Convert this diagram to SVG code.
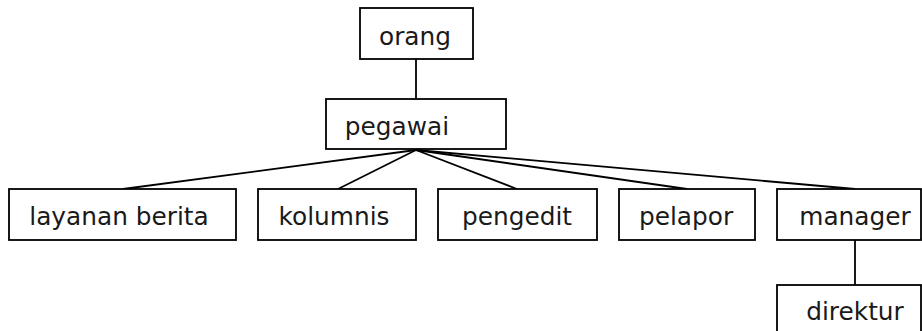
<svg xmlns="http://www.w3.org/2000/svg" width="922" height="331" viewBox="0 0 922 331">
  <style>
    .box { fill: #ffffff; stroke: #000000; stroke-width: 1.8; }
    .lbl { font-family: "DejaVu Sans", Verdana, sans-serif; font-size: 24.8px; fill: #1a1a1a; text-anchor: middle; }
    .edge { stroke: #000000; stroke-width: 1.8; fill: none; }
  </style>
  <rect width="922" height="331" fill="#ffffff"/>

  <!-- hierarchy links -->
  <g id="connectors">
    <line class="edge" x1="416" y1="59" x2="416" y2="99"/>
    <line class="edge" x1="416" y1="150" x2="123" y2="189"/>
    <line class="edge" x1="416" y1="150" x2="338" y2="189"/>
    <line class="edge" x1="416" y1="150" x2="517" y2="189"/>
    <line class="edge" x1="416" y1="150" x2="687" y2="189"/>
    <line class="edge" x1="416" y1="150" x2="855" y2="189"/>
    <line class="edge" x1="855" y1="240" x2="855" y2="285"/>
  </g>

  <g id="orang">
    <rect class="box" x="360" y="8" width="113" height="51"/>
    <text class="lbl" x="415" y="45">orang</text>
  </g>
  <g id="pegawai">
    <rect class="box" x="326" y="99" width="180" height="50"/>
    <text class="lbl" x="397" y="135">pegawai</text>
  </g>
  <g id="layanan-berita">
    <rect class="box" x="9" y="189" width="227" height="51"/>
    <text class="lbl" x="119" y="225">layanan berita</text>
  </g>
  <g id="kolumnis">
    <rect class="box" x="258" y="189" width="158" height="51"/>
    <text class="lbl" x="334" y="225">kolumnis</text>
  </g>
  <g id="pengedit">
    <rect class="box" x="438" y="189" width="159" height="51"/>
    <text class="lbl" x="517" y="225">pengedit</text>
  </g>
  <g id="pelapor">
    <rect class="box" x="619" y="189" width="136" height="51"/>
    <text class="lbl" x="686" y="225">pelapor</text>
  </g>
  <g id="manager">
    <rect class="box" x="777" y="189" width="144" height="51"/>
    <text class="lbl" x="855" y="225">manager</text>
  </g>
  <g id="direktur">
    <rect class="box" x="777" y="285" width="144" height="52"/>
    <text class="lbl" x="855" y="320">direktur</text>
  </g>
</svg>
